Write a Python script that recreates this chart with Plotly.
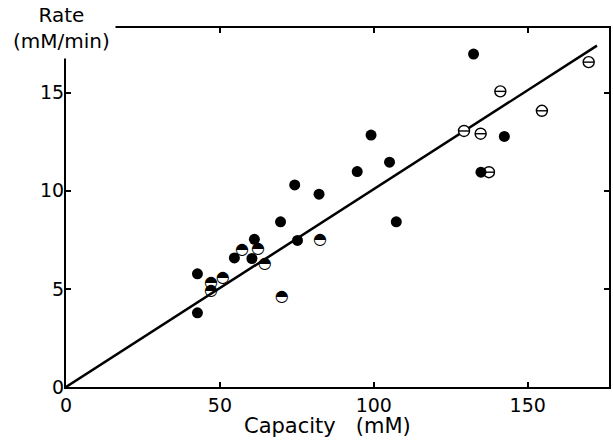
import plotly.graph_objects as go

# Data
filled_x = [42.7, 42.7, 54.7, 60.4, 61.2, 69.7, 74.3, 75.2, 82.2, 94.6, 99.1, 105.1, 107.3, 132.4, 134.8, 142.4]
filled_y = [5.77, 3.78, 6.58, 6.55, 7.53, 8.42, 10.3, 7.47, 9.83, 10.98, 12.84, 11.46, 8.42, 16.97, 10.95, 12.77]

half_x = [47.1, 47.1, 50.9, 57.2, 62.4, 64.6, 70.1, 82.5]
half_y = [5.29, 4.9, 5.55, 6.99, 7.02, 6.28, 4.6, 7.5]

theta_x = [129.3, 134.7, 137.4, 141.1, 154.6, 169.8]
theta_y = [13.05, 12.91, 10.95, 15.07, 14.08, 16.56]

line_x = [0, 172.5]
line_y = [0, 17.4]

x_ticks = [0, 50, 100, 150]
y_ticks = [0, 5, 10, 15]

FONT = "DejaVu Sans"

fig = go.Figure()

fig.add_trace(go.Scatter(x=line_x, y=line_y, mode="lines",
                         line=dict(color="black", width=2.5), showlegend=False))

fig.add_trace(go.Scatter(x=theta_x, y=theta_y, mode="markers",
                         marker=dict(symbol="circle", size=11, color="white",
                                     line=dict(color="black", width=1.4)),
                         showlegend=False))
fig.add_trace(go.Scatter(x=theta_x, y=theta_y, mode="markers",
                         marker=dict(symbol="line-ew", size=8,
                                     line=dict(color="black", width=1.4)),
                         showlegend=False))

fig.add_trace(go.Scatter(x=half_x, y=half_y, mode="text", text=["◓"] * len(half_x),
                         textposition="middle center",
                         textfont=dict(family=FONT, size=16, color="black"),
                         showlegend=False))

fig.add_trace(go.Scatter(x=filled_x, y=filled_y, mode="markers",
                         marker=dict(symbol="circle", size=11, color="black"),
                         showlegend=False))

axis_common = dict(showgrid=False, zeroline=False, showline=True, linecolor="black",
                   linewidth=2, mirror="ticks", ticks="inside", ticklen=5,
                   tickwidth=2, tickcolor="black",
                   tickfont=dict(family=FONT, size=19, color="black"))

fig.update_xaxes(range=[0, 176.4], tickvals=x_ticks, ticktext=[str(v) for v in x_ticks],
                 ticklabelstandoff=0, **axis_common)
fig.update_yaxes(range=[0, 18.3], tickvals=y_ticks, ticktext=[str(v) for v in y_ticks],
                 ticklabelstandoff=-4, **axis_common)

fig.add_annotation(text="Capacity   (mM)", xref="paper", yref="paper",
                   x=0.482, y=-0.07, xanchor="center", yanchor="top", showarrow=False,
                   font=dict(family=FONT, size=21, color="black"))
fig.add_annotation(text="Rate<br>(mM/min)", xref="paper", yref="paper",
                   x=-0.008, y=1.085, xanchor="center", yanchor="top", showarrow=False,
                   bgcolor="white", borderpad=5,
                   font=dict(family=FONT, size=20, color="black"))

fig.update_layout(width=613, height=442,
                  margin=dict(l=66, r=2, t=28, b=55),
                  paper_bgcolor="white", plot_bgcolor="white")

fig.write_html("out.html", config={"displayModeBar": False},
               post_script="document.body.style.margin='0';document.body.style.padding='0';")
